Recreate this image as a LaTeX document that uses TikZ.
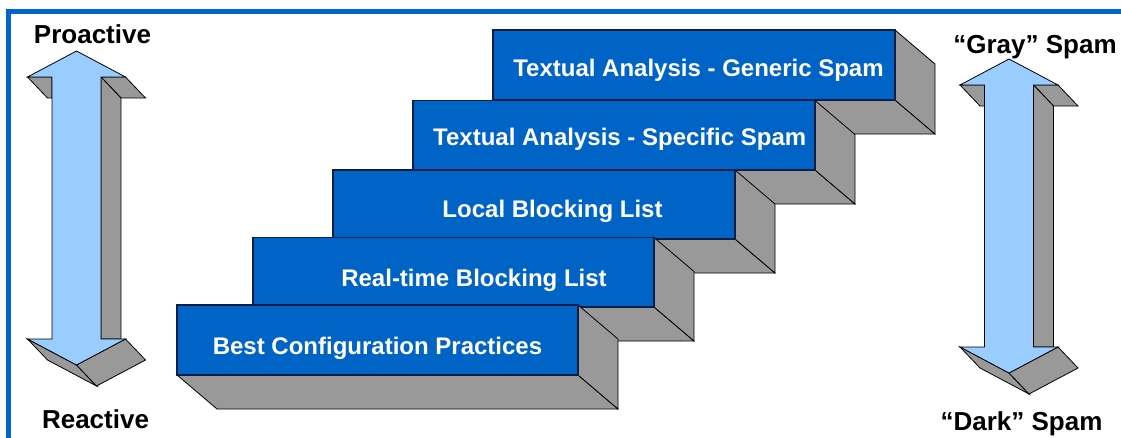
\documentclass[tikz,border=0pt]{standalone}
\usepackage{fontspec}
\setmainfont{Liberation Sans}
\definecolor{stepblue}{RGB}{0,99,198}
\definecolor{frameblue}{RGB}{0,102,204}
\definecolor{sidegray}{RGB}{153,153,153}
\definecolor{arrowblue}{RGB}{153,204,255}
\definecolor{edgenavy}{RGB}{12,30,70}
\tikzset{
  face/.style={fill=sidegray, draw=black, line width=0.8pt, line join=miter},
  front/.style={fill=stepblue, draw=edgenavy, line width=1.1pt},
  arrowfront/.style={fill=arrowblue, draw=black, line width=0.8pt},
  framebox/.style={draw=frameblue, line width=5pt},
  steptext/.style={text=white, font=\bfseries\fontsize{24}{28}\selectfont, anchor=base, inner sep=0pt},
  sidelabel/.style={text=black, font=\bfseries\fontsize{26}{30}\selectfont, anchor=base, inner sep=0pt}
}
% one stair block: left, top, right, bottom, text x, text baseline, name, text
\newcommand\stairblock[8]{%
  \draw[face] (#1,#4) -- (#3,#4) -- (#3+40,#4+34) -- (#1+40,#4+34) -- cycle;
  \draw[face] (#3,#2) -- (#3+40,#2+34) -- (#3+40,#4+34) -- (#3,#4) -- cycle;
  \draw[front] (#1,#2) rectangle (#3,#4);
  \node[steptext] (#7) at (#5,#6) {#8};
}
% double-headed block arrow with its shaded depth; centre x and tip y
\newcommand\dblarrow[2]{%
  \begin{scope}[shift={(#1,#2)}]
    \draw[face] (-49,26) -- (-24.5,26) -- (-24.5,47) -- (-29,47) -- cycle;
    \draw[face] (24.5,26) -- (49,26) -- (69,47) -- (44.5,47) -- cycle;
    \draw[face] (24.5,26) -- (44.5,47) -- (44.5,288) -- (24.5,288) -- cycle;
    \draw[face] (-49,288) -- (0,314) -- (20,335) -- (-29,309) -- cycle;
    \draw[face] (0,314) -- (49,288) -- (69,309) -- (20,335) -- cycle;
    \draw[arrowfront] (0,0) -- (49,26) -- (24.5,26) -- (24.5,288) -- (49,288)
      -- (0,314) -- (-49,288) -- (-24.5,288) -- (-24.5,26) -- (-49,26) -- cycle;
  \end{scope}
}
\begin{document}
\begin{tikzpicture}[x=1pt, y=-1pt]
  \useasboundingbox (0,0) rectangle (1121,437);
  \begin{scope}
    \clip (0,0) rectangle (1121,437);
    \draw[framebox] (8,11.5) rectangle (1140,460);
  \end{scope}

  % staircase, drawn from the top step down
  \stairblock{493}{30}{895}{100}{698.5}{76.7}{generic}{Textual Analysis - Generic Spam}
  \stairblock{413}{100.5}{815}{170}{619.7}{145.7}{specific}{Textual Analysis - Specific Spam}
  \stairblock{333}{170}{735}{239}{552.5}{217.7}{local}{Local Blocking List}
  \stairblock{253}{237.5}{654}{307}{474}{286.7}{realtime}{Real-time Blocking List}
  \stairblock{177}{305}{578}{375}{377.5}{354}{bestconf}{Best Configuration Practices}

  % scales on both sides
  \dblarrow{76.5}{51}
  \dblarrow{1009}{59}

  \node[sidelabel] (proactive) at (92.5,43) {Proactive};
  \node[sidelabel] (reactive) at (95.5,428) {Reactive};
  \node[sidelabel] (gray) at (1035,53) {“Gray” Spam};
  \node[sidelabel] (dark) at (1021.5,430) {“Dark” Spam};
\end{tikzpicture}
\end{document}
